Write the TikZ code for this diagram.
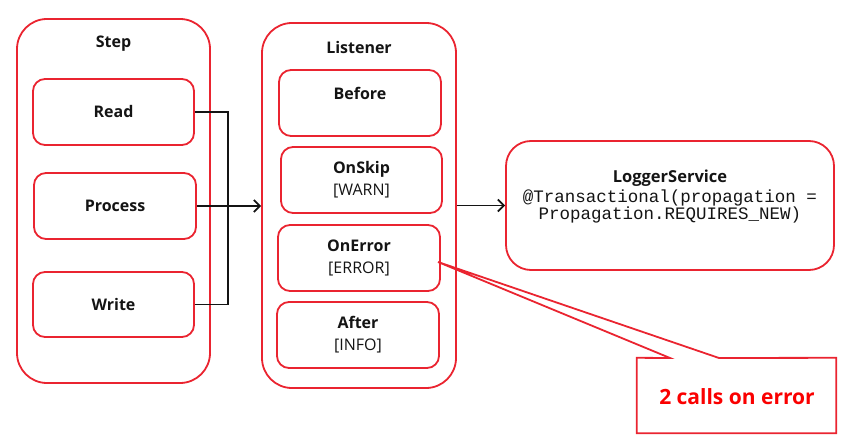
\documentclass[tikz,border=0pt]{standalone}
\usepackage{fontspec}
\setmainfont{Open Sans}
\setmonofont{Liberation Mono}
\usetikzlibrary{arrows.meta}
\definecolor{boxred}{RGB}{234,36,48}
\definecolor{txt}{RGB}{20,20,20}
\definecolor{callred}{RGB}{250,0,0}
\tikzset{
  outerbox/.style={draw=boxred, line width=1.8pt, rounded corners=30pt, inner sep=0pt},
  innerbox/.style={draw=boxred, line width=1.8pt, rounded corners=12pt, inner sep=0pt, align=center, font=\fontsize{16}{22}\selectfont, text=txt},
  titletext/.style={font=\fontsize{16}{18}\selectfont\bfseries, text=txt, inner sep=0pt},
  conn/.style={draw=txt, line width=1.6pt},
  arr/.style={conn, -{Straight Barb[length=6pt,width=12pt,line width=1.8pt]}},
}
\begin{document}
\begin{tikzpicture}[x=1pt,y=-1pt]
\useasboundingbox (0,0) rectangle (845,446);
% Step
\node[outerbox, minimum width=193pt, minimum height=364pt] (step) at (113.5,201) {};
\node[titletext] (steptitle) at (113.5,44) {Step};
\node[innerbox, minimum width=161pt, minimum height=66pt] (read) at (113.5,112) {\textbf{Read}};
\node[innerbox, minimum width=162pt, minimum height=66pt] (process) at (115,206) {\textbf{Process}};
\node[innerbox, minimum width=161pt, minimum height=65pt] (write) at (113.5,304.5) {\textbf{Write}};
% Listener
\node[outerbox, minimum width=194pt, minimum height=365pt] (listener) at (359,205.5) {};
\node[titletext] (listenertitle) at (359,48) {Listener};
\node[innerbox, minimum width=162pt, minimum height=66pt] (before) at (360,103) {};
\node[titletext] (beforetext) at (360,93) {Before};
\node[innerbox, minimum width=161pt, minimum height=66pt] (onskip) at (361.5,180) {\textbf{OnSkip}\\{}[WARN]};
\node[innerbox, minimum width=162pt, minimum height=66pt] (onerror) at (359,258) {\textbf{OnError}\\{}[ERROR]};
\node[innerbox, minimum width=162pt, minimum height=66pt] (after) at (358,335) {\textbf{After}\\{}[INFO]};
% LoggerService
\node[outerbox, rounded corners=25pt, minimum width=328pt, minimum height=129pt] (logger) at (670,205.5) {};
\node[align=center, text=txt, inner sep=0pt] (loggertext) at (670,197) {{\fontsize{16.5}{21}\selectfont\bfseries LoggerService}\\[2pt]{\fontsize{17.5}{22}\selectfont\ttfamily @Transactional(propagation =}\\{\fontsize{17.5}{22}\selectfont\ttfamily Propagation.REQUIRES\_NEW)}};
% connectors
\coordinate (join) at (228,206);
\draw[conn] (read.east) -| (join);
\draw[conn] (write.east) -| (join);
\draw[arr] (process.east) -- (process.east -| listener.west);
\draw[arr] (listener.east |- logger.west) -- (logger.west);
% callout
\node[inner sep=0pt, minimum width=199pt, minimum height=75pt] (callout) at (736.5,395.5) {};
\node[text=callred, font=\fontsize{21}{24}\selectfont\bfseries, inner sep=0pt] (callouttext) at (737,397) {2 calls on error};
\coordinate (tip) at (438,262);
\draw[draw=boxred, line width=1.8pt, line join=miter] (callout.north west) -- (670,358) -- (tip) -- (719,358) -- (callout.north east) -- (callout.south east) -- (callout.south west) -- cycle;
\end{tikzpicture}
\end{document}
